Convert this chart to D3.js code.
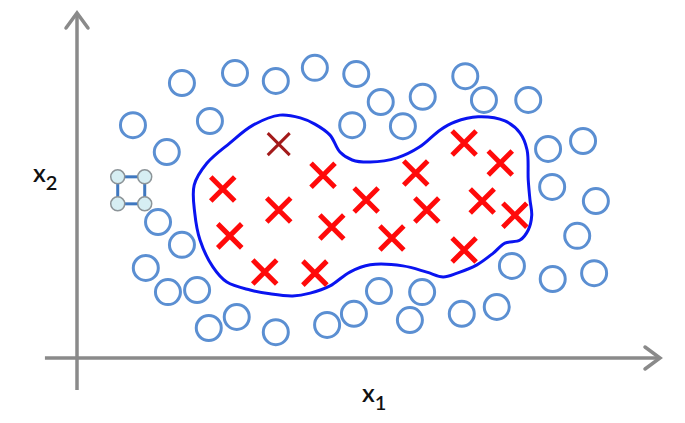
<!DOCTYPE html>
<html><head><meta charset="utf-8">
<script src="https://cdn.jsdelivr.net/npm/d3@7"></script>
<style>html,body{margin:0;padding:0;background:#fff;}svg{display:block;}</style>
</head><body>
<svg id="chart" width="685" height="423"></svg>
<script>
// Negative class (circles)
const circleX = [1.80,2.71,3.41,4.08,4.79,5.21,5.93,6.66,6.98,7.74,0.96,2.28,1.54,4.72,5.59,8.08,8.68,8.15,8.90,8.58,1.39,1.80,1.18,1.56,2.06,7.46,8.16,8.87,2.26,2.74,3.41,4.29,4.75,5.18,5.92,5.71,6.60,7.20];
const circleY = [7.97,8.26,8.03,8.41,8.23,7.42,7.57,8.17,7.48,7.48,6.75,6.87,5.97,6.75,6.72,6.06,6.29,4.96,4.55,3.54,3.94,3.28,2.61,1.91,1.97,2.67,2.29,2.46,0.87,1.19,0.75,0.96,1.28,1.94,1.91,1.10,1.28,1.48];
// Positive class (crosses)
const crossX = [2.50,4.22,5.81,6.64,7.26,3.46,4.96,6.00,6.95,7.51,2.62,4.37,5.40,6.64,3.22,4.08];
const crossY = [4.90,5.30,5.36,6.23,5.65,4.29,4.58,4.29,4.55,4.14,3.54,3.80,3.48,3.13,2.49,2.46];
// Highlighted cross
const darkCrossX = [3.46];
const darkCrossY = [6.20];
// Decision boundary
const boundaryX = [3.48,3.83,4.08,4.34,4.51,4.72,5.03,5.49,5.88,6.23,6.48,6.88,7.34,7.60,7.72,7.74,7.77,7.80,7.74,7.60,7.34,7.14,6.86,6.52,6.28,6.00,5.59,5.03,4.68,4.34,4.00,3.70,3.31,2.97,2.57,2.33,2.11,2.02,2.01,2.23,2.62,3.02];
const boundaryY = [7.04,6.96,6.78,6.46,5.97,5.74,5.68,5.80,6.12,6.61,6.84,6.99,6.87,6.52,6.03,5.16,4.58,4.14,3.71,3.42,3.33,3.04,2.70,2.46,2.35,2.49,2.67,2.70,2.49,2.09,1.88,1.80,1.86,1.97,2.20,2.64,3.42,4.20,5.01,5.65,6.23,6.75];
const axisLabels = ["x", "1", "x", "2"];

const svg = d3.select("#chart");
const x = d3.scaleLinear().domain([0, 10]).range([77, 660]);
const y = d3.scaleLinear().domain([0, 10]).range([358, 13]);

const axisColor = "#8a8a8a";
// axes
svg.append("line").attr("x1", x(-0.55)).attr("x2", x(10) - 2).attr("y1", y(0)).attr("y2", y(0))
  .attr("stroke", axisColor).attr("stroke-width", 3.5);
svg.append("line").attr("x1", x(0)).attr("x2", x(0)).attr("y1", y(-0.93)).attr("y2", y(10) + 2)
  .attr("stroke", axisColor).attr("stroke-width", 3.5);
// arrowheads
svg.append("path").attr("d", `M${x(10)-15},${y(0)-11} L${x(10)},${y(0)} L${x(10)-15},${y(0)+11}`)
  .attr("fill", "none").attr("stroke", axisColor).attr("stroke-width", 3.5).attr("stroke-linecap", "round");
svg.append("path").attr("d", `M${x(0)-11},${y(10)+15} L${x(0)},${y(10)} L${x(0)+11},${y(10)+15}`)
  .attr("fill", "none").attr("stroke", axisColor).attr("stroke-width", 3.5).attr("stroke-linecap", "round");

// circles
const circles = circleX.map((v, i) => ({x: v, y: circleY[i]}));
svg.append("g").selectAll("circle").data(circles).join("circle")
  .attr("cx", d => x(d.x)).attr("cy", d => y(d.y)).attr("r", 12.5)
  .attr("fill", "none").attr("stroke", "#5b8fd2").attr("stroke-width", 3);

// boundary
const boundary = boundaryX.map((v, i) => [x(v), y(boundaryY[i])]);
svg.append("path").attr("d", d3.line().curve(d3.curveCatmullRomClosed.alpha(0.5))(boundary))
  .attr("fill", "none").attr("stroke", "#0a14f0").attr("stroke-width", 3);

// crosses
function drawCross(g, cx, cy, s, color, w) {
  g.append("path").attr("d", `M${cx-s},${cy-s} L${cx+s},${cy+s} M${cx-s},${cy+s} L${cx+s},${cy-s}`)
    .attr("stroke", color).attr("stroke-width", w).attr("fill", "none");
}
const cg = svg.append("g");
crossX.forEach((v, i) => drawCross(cg, x(v), y(crossY[i]), 12, "#ff0a0a", 5));
darkCrossX.forEach((v, i) => drawCross(cg, x(v), y(darkCrossY[i]), 11, "#a31a1a", 3));

// selection-handle icon
const ic = svg.append("g");
const icx = x(0.93), icy = y(4.86), h = 13.5;
ic.append("rect").attr("x", icx - h).attr("y", icy - h).attr("width", 2*h).attr("height", 2*h)
  .attr("fill", "none").attr("stroke", "#3f78c0").attr("stroke-width", 3);
[[-1,-1],[1,-1],[-1,1],[1,1]].forEach(([a,b]) => {
  ic.append("circle").attr("cx", icx + a*h).attr("cy", icy + b*h).attr("r", 7)
    .attr("fill", "#d6eef3").attr("stroke", "#8c9498").attr("stroke-width", 1.5);
});

// axis labels
const fontFam = "Lato, 'Open Sans', sans-serif";
const t1 = svg.append("text").attr("x", x(4.89)).attr("y", y(-1.28)).attr("font-family", fontFam)
  .attr("font-size", 25).attr("font-weight", 600).attr("fill", "#111");
t1.append("tspan").text(axisLabels[0]);
t1.append("tspan").attr("dy", 8).attr("font-size", 20).text(axisLabels[1]);
const t2 = svg.append("text").attr("x", 33).attr("y", y(5.1)).attr("font-family", fontFam)
  .attr("font-size", 25).attr("font-weight", 600).attr("fill", "#111");
t2.append("tspan").text(axisLabels[2]);
t2.append("tspan").attr("dy", 8).attr("font-size", 20).text(axisLabels[3]);
</script>
</body></html>
